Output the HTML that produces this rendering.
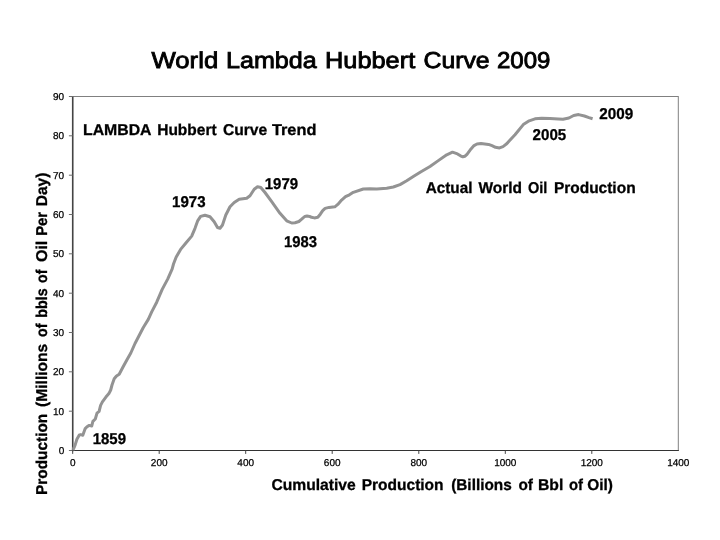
<!DOCTYPE html>
<html><head><meta charset="utf-8"><title>World Lambda Hubbert Curve 2009</title>
<style>
html,body{margin:0;padding:0;background:#fff;}
body{width:720px;height:540px;overflow:hidden;font-family:"Liberation Sans",sans-serif;}
svg{display:block;}
text{font-family:"Liberation Sans",sans-serif;fill:#000;text-rendering:geometricPrecision;}
.tk{font-size:10px;fill:#000;stroke:#000;stroke-width:0.25;}
.tm{stroke:#444;stroke-width:1;}
.ty{stroke:#6c6c6c;}
.b{font-weight:bold;font-size:15.7px;stroke:#000;stroke-width:0.3;}
.title{font-size:22.9px;stroke:#000;stroke-width:0.85;}
</style></head><body>
<svg width="720" height="540" viewBox="0 0 720 540">
<rect width="720" height="540" fill="#fff"/>
<text y="68.2" class="title"><tspan x="151.53" textLength="66.69" lengthAdjust="spacingAndGlyphs">World</tspan> <tspan x="225.96" textLength="90.75" lengthAdjust="spacingAndGlyphs">Lambda</tspan> <tspan x="325.05" textLength="90.14" lengthAdjust="spacingAndGlyphs">Hubbert</tspan> <tspan x="423.46" textLength="66.22" lengthAdjust="spacingAndGlyphs">Curve</tspan> <tspan x="497.00" textLength="53.45" lengthAdjust="spacingAndGlyphs">2009</tspan></text>
<rect x="72.7" y="96.5" width="605.5999999999999" height="354.0" fill="#fff" stroke="#808080" stroke-width="1"/>
<line x1="72.7" y1="96.5" x2="72.7" y2="451.2" stroke="#444" stroke-width="1.55"/>
<line x1="72.0" y1="450.5" x2="678.8" y2="450.5" stroke="#333" stroke-width="1.2"/>
<line x1="68.9" y1="450.5" x2="72.7" y2="450.5" class="tm ty"/>
<text x="64.2" y="453.9" text-anchor="end" class="tk">0</text>
<line x1="68.9" y1="411.2" x2="72.7" y2="411.2" class="tm ty"/>
<text x="64.2" y="414.6" text-anchor="end" class="tk">10</text>
<line x1="68.9" y1="371.8" x2="72.7" y2="371.8" class="tm ty"/>
<text x="64.2" y="375.2" text-anchor="end" class="tk">20</text>
<line x1="68.9" y1="332.5" x2="72.7" y2="332.5" class="tm ty"/>
<text x="64.2" y="335.9" text-anchor="end" class="tk">30</text>
<line x1="68.9" y1="293.2" x2="72.7" y2="293.2" class="tm ty"/>
<text x="64.2" y="296.6" text-anchor="end" class="tk">40</text>
<line x1="68.9" y1="253.8" x2="72.7" y2="253.8" class="tm ty"/>
<text x="64.2" y="257.2" text-anchor="end" class="tk">50</text>
<line x1="68.9" y1="214.5" x2="72.7" y2="214.5" class="tm ty"/>
<text x="64.2" y="217.9" text-anchor="end" class="tk">60</text>
<line x1="68.9" y1="175.2" x2="72.7" y2="175.2" class="tm ty"/>
<text x="64.2" y="178.6" text-anchor="end" class="tk">70</text>
<line x1="68.9" y1="135.8" x2="72.7" y2="135.8" class="tm ty"/>
<text x="64.2" y="139.2" text-anchor="end" class="tk">80</text>
<line x1="68.9" y1="96.5" x2="72.7" y2="96.5" class="tm ty"/>
<text x="64.2" y="99.9" text-anchor="end" class="tk">90</text>
<line x1="72.7" y1="450.5" x2="72.7" y2="453.9" class="tm"/>
<text x="72.7" y="466.0" text-anchor="middle" class="tk">0</text>
<line x1="159.2" y1="450.5" x2="159.2" y2="453.9" class="tm"/>
<text x="159.2" y="466.0" text-anchor="middle" class="tk">200</text>
<line x1="245.7" y1="450.5" x2="245.7" y2="453.9" class="tm"/>
<text x="245.7" y="466.0" text-anchor="middle" class="tk">400</text>
<line x1="332.2" y1="450.5" x2="332.2" y2="453.9" class="tm"/>
<text x="332.2" y="466.0" text-anchor="middle" class="tk">600</text>
<line x1="418.8" y1="450.5" x2="418.8" y2="453.9" class="tm"/>
<text x="418.8" y="466.0" text-anchor="middle" class="tk">800</text>
<line x1="505.3" y1="450.5" x2="505.3" y2="453.9" class="tm"/>
<text x="505.3" y="466.0" text-anchor="middle" class="tk">1000</text>
<line x1="591.8" y1="450.5" x2="591.8" y2="453.9" class="tm"/>
<text x="591.8" y="466.0" text-anchor="middle" class="tk">1200</text>
<text x="678.3" y="466.0" text-anchor="middle" class="tk">1400</text>

<path d="M72.9,450.0 L73.5,448.8 L75.1,445.1 L76.9,439.2 L79.3,434.9 L80.8,434.6 L82.8,435.2 L85.2,428.6 L87.0,426.8 L89.3,425.4 L91.7,426.0 L92.9,421.4 L95.3,419.0 L97.0,413.1 L99.1,411.3 L100.6,405.4 L102.4,401.9 L105.9,397.1 L108.9,393.6 L110.7,390.0 L112.0,385.0 L114.2,378.8 L116.5,376.0 L119.2,374.3 L123.0,367.0 L126.7,360.2 L130.8,353.0 L135.0,343.5 L143.3,327.5 L148.3,319.4 L151.7,311.9 L156.7,302.2 L162.2,289.4 L167.8,278.9 L172.2,268.9 L173.5,264.0 L176.1,257.2 L180.6,249.4 L186.1,242.8 L191.7,236.1 L195.0,228.3 L197.8,220.6 L200.6,216.4 L205.0,215.2 L210.0,216.7 L214.2,221.7 L217.5,227.5 L220.0,228.3 L222.5,225.0 L225.8,215.0 L230.0,206.7 L234.2,202.5 L239.2,199.2 L246.7,198.3 L250.0,195.8 L254.2,189.2 L257.5,186.7 L260.8,187.5 L265.0,192.5 L271.7,201.7 L280.0,213.3 L286.7,220.8 L291.7,223.0 L295.0,222.7 L298.9,221.5 L301.7,219.2 L304.7,216.5 L307.0,216.1 L309.6,216.4 L311.5,217.3 L314.4,217.9 L317.8,217.3 L320.3,214.2 L322.7,210.6 L325.1,208.4 L329.0,207.4 L334.8,206.8 L337.8,204.4 L341.6,200.1 L345.5,196.7 L349.4,194.8 L353.3,192.3 L363.3,189.0 L370.0,188.7 L376.7,189.0 L386.7,188.2 L393.3,187.0 L400.0,184.6 L406.7,180.8 L413.3,176.6 L421.0,171.8 L430.0,166.5 L438.3,160.6 L446.7,154.8 L452.5,152.2 L457.5,153.9 L460.5,155.8 L462.8,156.8 L465.0,156.2 L467.0,154.3 L471.0,148.9 L474.0,145.6 L477.0,144.0 L481.0,143.5 L488.5,144.4 L492.0,145.7 L495.5,147.3 L499.5,147.9 L503.0,146.6 L506.7,143.8 L509.4,140.8 L515.0,134.8 L523.3,124.6 L529.2,120.8 L535.0,118.8 L541.7,118.3 L550.0,118.5 L558.3,119.0 L563.0,119.2 L568.9,118.0 L573.7,115.5 L578.6,114.6 L584.4,116.0 L589.0,117.6 L592.6,118.7" fill="none" stroke="#939393" stroke-width="3" stroke-linejoin="round" stroke-linecap="butt"/>
<text y="134.8" class="b" ><tspan x="82.97" textLength="67.98" lengthAdjust="spacingAndGlyphs">LAMBDA</tspan> <tspan x="157.18" textLength="59.50" lengthAdjust="spacingAndGlyphs">Hubbert</tspan> <tspan x="222.91" textLength="44.33" lengthAdjust="spacingAndGlyphs">Curve</tspan> <tspan x="271.90" textLength="44.50" lengthAdjust="spacingAndGlyphs">Trend</tspan></text>
<text y="207.3" class="b" ><tspan x="172.01" textLength="33.52" lengthAdjust="spacingAndGlyphs">1973</tspan></text>
<text y="188.7" class="b" ><tspan x="264.81" textLength="33.31" lengthAdjust="spacingAndGlyphs">1979</tspan></text>
<text y="246.5" class="b" ><tspan x="284.12" textLength="33.00" lengthAdjust="spacingAndGlyphs">1983</tspan></text>
<text y="140.3" class="b" ><tspan x="532.58" textLength="33.65" lengthAdjust="spacingAndGlyphs">2005</tspan></text>
<text y="118.6" class="b" ><tspan x="599.27" textLength="33.96" lengthAdjust="spacingAndGlyphs">2009</tspan></text>
<text y="444.4" class="b" ><tspan x="92.71" textLength="33.31" lengthAdjust="spacingAndGlyphs">1859</tspan></text>
<text y="193" class="b" ><tspan x="425.71" textLength="46.74" lengthAdjust="spacingAndGlyphs">Actual</tspan> <tspan x="478.45" textLength="43.59" lengthAdjust="spacingAndGlyphs">World</tspan> <tspan x="528.00" textLength="19.42" lengthAdjust="spacingAndGlyphs">Oil</tspan> <tspan x="553.88" textLength="81.72" lengthAdjust="spacingAndGlyphs">Production</tspan></text>
<text y="490" class="b" ><tspan x="271.41" textLength="84.33" lengthAdjust="spacingAndGlyphs">Cumulative</tspan> <tspan x="361.68" textLength="81.92" lengthAdjust="spacingAndGlyphs">Production</tspan> <tspan x="451.18" textLength="60.54" lengthAdjust="spacingAndGlyphs">(Billions</tspan> <tspan x="518.42" textLength="14.52" lengthAdjust="spacingAndGlyphs">of</tspan> <tspan x="537.92" textLength="25.36" lengthAdjust="spacingAndGlyphs">Bbl</tspan> <tspan x="568.94" textLength="14.00" lengthAdjust="spacingAndGlyphs">of</tspan> <tspan x="587.17" textLength="25.74" lengthAdjust="spacingAndGlyphs">Oil)</tspan></text>
<text y="0" class="b" transform="translate(47.4,494.1) rotate(-90)"><tspan x="-0.81" textLength="81.10" lengthAdjust="spacingAndGlyphs">Production</tspan> <tspan x="87.22" textLength="63.06" lengthAdjust="spacingAndGlyphs">(Millions</tspan> <tspan x="157.11" textLength="13.39" lengthAdjust="spacingAndGlyphs">of</tspan> <tspan x="176.46" textLength="29.37" lengthAdjust="spacingAndGlyphs">bbls</tspan> <tspan x="211.21" textLength="13.29" lengthAdjust="spacingAndGlyphs">of</tspan> <tspan x="232.05" textLength="21.35" lengthAdjust="spacingAndGlyphs">Oil</tspan> <tspan x="258.32" textLength="23.94" lengthAdjust="spacingAndGlyphs">Per</tspan> <tspan x="287.88" textLength="33.63" lengthAdjust="spacingAndGlyphs">Day)</tspan></text>
</svg>
</body></html>
